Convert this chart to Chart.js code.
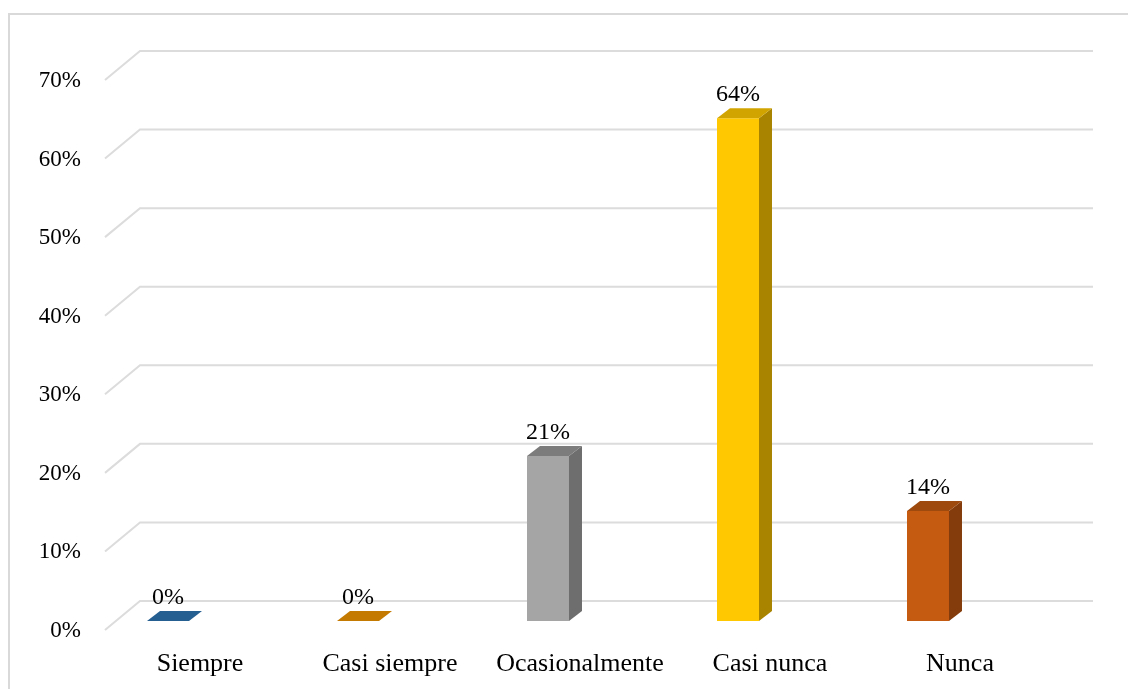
<!DOCTYPE html>
<html>
<head>
<meta charset="utf-8">
<script src="https://cdn.jsdelivr.net/npm/chart.js@4.4.0/dist/chart.umd.min.js"></script>
<style>
  body { margin: 0; background: #fff; }
  #wrap { position: relative; width: 1128px; height: 689px; overflow: hidden; }
  #marco { position: absolute; left: 8px; top: 13px; width: 1200px; height: 800px;
           border-top: 2px solid #d9d9d9; border-left: 2px solid #d9d9d9; }
  canvas { position: absolute; left: 0; top: 0; }
</style>
</head>
<body>
<div id="wrap">
  <div id="marco"></div>
  <canvas id="cntGrafica" width="1128" height="689"></canvas>
</div>
<script>
// datos
var categorias = ['Siempre', 'Casi siempre', 'Ocasionalmente', 'Casi nunca', 'Nunca'];
var porcentajes = [0, 0, 21, 64, 14];
var etiquetas = ['0%', '0%', '21%', '64%', '14%'];

var coloresFrente = ['#2e6aa3', '#d08a0a', '#a5a5a5', '#ffc800', '#c55a11'];
var coloresLado = ['#1f4e79', '#9a6200', '#6e6e6e', '#a88400', '#843c0c'];
var coloresArriba = ['#255e91', '#c47a00', '#7c7c7c', '#d2a400', '#9e4a0e'];

var fuente = 'Liberation Serif, Times New Roman, serif';
var prof = { dx: 13, dy: 10 };

// paredes, lineas de la cuadricula en perspectiva y textos del eje Y
var pluginCuadricula = {
  id: 'cuadricula3d',
  beforeDatasetsDraw: function(chart) {
    var ctx = chart.ctx;
    var y = chart.scales.y;
    var area = chart.chartArea;
    ctx.save();
    ctx.strokeStyle = '#dcdcdc';
    ctx.lineWidth = 2;
    y.ticks.forEach(function(t) {
      var py = y.getPixelForValue(t.value);
      ctx.beginPath();
      ctx.moveTo(area.left + 32, py + 9);
      ctx.lineTo(area.left + 67, py - 20);
      ctx.lineTo(area.right + 70, py - 20);
      ctx.stroke();
    });
    // las etiquetas del eje se salen de su caja, por eso se pintan aqui
    ctx.fillStyle = '#000';
    ctx.font = '23px ' + fuente;
    ctx.textAlign = 'right';
    ctx.textBaseline = 'middle';
    y.ticks.forEach(function(t) {
      var py = y.getPixelForValue(t.value);
      ctx.fillText(t.value + '%', area.left + 8, py + 10);
    });
    ctx.restore();
  }
};

// caras laterales y superiores de las barras + etiquetas
var pluginBarras3d = {
  id: 'barras3d',
  afterDatasetsDraw: function(chart) {
    var ctx = chart.ctx;
    var meta = chart.getDatasetMeta(0);
    ctx.save();
    meta.data.forEach(function(bar, i) {
      var izq = bar.x - bar.width / 2;
      var der = bar.x + bar.width / 2;
      var top = bar.y;
      var base = bar.base;
      if (base - top > 0.5) {
        ctx.fillStyle = coloresLado[i];
        ctx.beginPath();
        ctx.moveTo(der, top);
        ctx.lineTo(der + prof.dx, top - prof.dy);
        ctx.lineTo(der + prof.dx, base - prof.dy);
        ctx.lineTo(der, base);
        ctx.closePath();
        ctx.fill();
      }
      ctx.fillStyle = coloresArriba[i];
      ctx.beginPath();
      ctx.moveTo(izq, top);
      ctx.lineTo(izq + prof.dx, top - prof.dy);
      ctx.lineTo(der + prof.dx, top - prof.dy);
      ctx.lineTo(der, top);
      ctx.closePath();
      ctx.fill();

      ctx.fillStyle = '#000';
      ctx.font = '24px ' + fuente;
      ctx.textAlign = 'center';
      ctx.textBaseline = 'alphabetic';
      ctx.fillText(etiquetas[i], bar.x, top - prof.dy - 7);
    });
    ctx.restore();
  }
};

var ctx = document.getElementById('cntGrafica').getContext('2d');
window.cntGrafica_ = new Chart(ctx, {
  type: 'bar',
  data: {
    labels: categorias,
    datasets: [{
      data: porcentajes,
      backgroundColor: coloresFrente,
      borderWidth: 0,
      categoryPercentage: 1,
      barPercentage: 0.221
    }]
  },
  options: {
    responsive: false,
    animation: false,
    layout: { padding: { top: 71, right: 105, bottom: 0, left: 0 } },
    plugins: { legend: { display: false }, tooltip: { enabled: false } },
    scales: {
      x: {
        grid: { display: false },
        border: { display: false },
        ticks: { color: '#000', font: { family: fuente, size: 26 }, padding: 20, labelOffset: 32, maxRotation: 0 },
        afterFit: function(scale) { scale.height = 68; }
      },
      y: {
        min: 0,
        max: 70,
        grid: { display: false },
        border: { display: false },
        ticks: { stepSize: 10, display: false },
        afterFit: function(scale) { scale.width = 73; }
      }
    }
  },
  plugins: [pluginCuadricula, pluginBarras3d]
});
</script>
</body>
</html>
